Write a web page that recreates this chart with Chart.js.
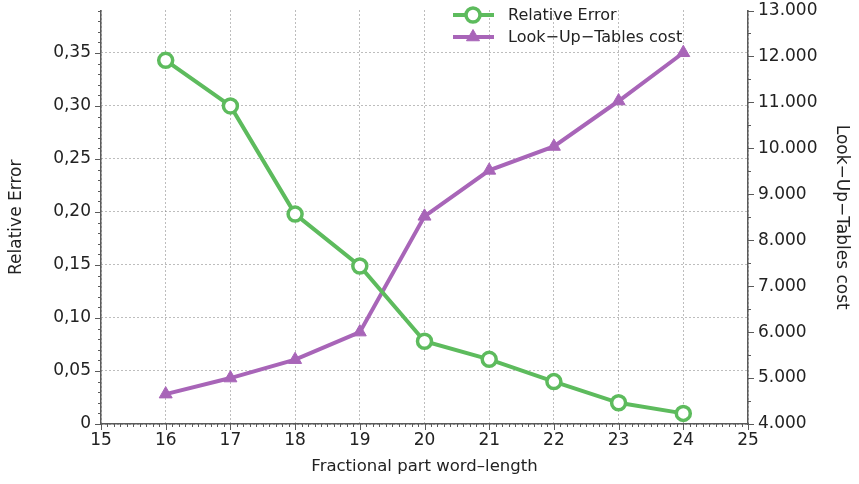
<!DOCTYPE html>
<html>
<head>
<meta charset="utf-8">
<script src="https://cdn.jsdelivr.net/npm/chart.js@4/dist/chart.umd.min.js"></script>
<style>
  html, body { margin: 0; padding: 0; background: #fff; }
  #wrap { width: 859px; height: 484px; }
</style>
</head>
<body>
<div id="wrap"><canvas id="c" width="859" height="484"></canvas></div>
<script>
// Word-length sweep: fractional bits vs. error and LUT cost
const wordLengths = [16, 17, 18, 19, 20, 21, 22, 23, 24];
const relativeError = [0.343, 0.300, 0.198, 0.149, 0.078, 0.061, 0.040, 0.020, 0.010];
const lutCost = [4650, 5000, 5400, 6000, 8520, 9520, 10040, 11030, 12080];

const xTickValues = [15, 16, 17, 18, 19, 20, 21, 22, 23, 24, 25];
const errorTickValues = [0, 0.05, 0.10, 0.15, 0.20, 0.25, 0.30, 0.35];
const costTickValues = [4000, 5000, 6000, 7000, 8000, 9000, 10000, 11000, 12000, 13000];

const seriesNames = ['Relative Error', 'Look\u2212Up\u2212Tables cost'];
const axisTitles = { x: 'Fractional part word\u2013length', left: 'Relative Error', right: 'Look\u2212Up\u2212Tables cost' };

const GREEN = '#5dbb5d';
const PURPLE = '#a865b8';
const AXIS = '#5a5a5a';
const TEXT = '#222222';
const FONT = '"DejaVu Sans", sans-serif';

const toPoints = (xs, ys) => xs.map((x, i) => ({ x, y: ys[i] }));

function fmtError(v) {
  if (Math.abs(v) < 1e-9) return '0';
  return v.toFixed(2).replace('.', ',');
}
function fmtCost(v) {
  return String(Math.round(v)).replace(/\B(?=(\d{3})+(?!\d))/g, '.');
}
function keepTicks(list) {
  return scale => {
    scale.ticks = list.map(v => ({ value: v }));
  };
}
// fixed axis thickness, no extra label overflow padding
function fixSize(dim, size) {
  return s => {
    s[dim] = size;
    s.paddingTop = 0; s.paddingBottom = 0;
    s.paddingLeft = 0; s.paddingRight = 0;
  };
}

// Minor / major tick marks on all three axes and the line+marker legend
const decorations = {
  id: 'decorations',
  afterDraw(chart) {
    const ctx = chart.ctx;
    const { x, y, y1 } = chart.scales;
    const area = chart.chartArea;
    ctx.save();
    ctx.strokeStyle = AXIS;
    ctx.lineWidth = 1;

    // x axis: minor every 0.1, major every 1, pointing down
    for (let i = 0; i <= 100; i++) {
      const v = 15 + i / 10;
      const px = Math.round(x.getPixelForValue(v)) + 0.5;
      const len = (i % 10 === 0) ? 6 : 3;
      ctx.beginPath();
      ctx.moveTo(px, area.bottom);
      ctx.lineTo(px, area.bottom + len);
      ctx.stroke();
    }
    // left axis: minor every 0.01, major every 0.05, pointing left
    for (let i = 0; i <= 39; i++) {
      const py = Math.round(y.getPixelForValue(i / 100)) + 0.5;
      const len = (i % 5 === 0) ? 6 : 3;
      ctx.beginPath();
      ctx.moveTo(area.left, py);
      ctx.lineTo(area.left - len, py);
      ctx.stroke();
    }
    // right axis: minor every 500, major every 1000, pointing right
    for (let i = 0; i <= 18; i++) {
      const py = Math.round(y1.getPixelForValue(4000 + i * 500)) + 0.5;
      const len = (i % 2 === 0) ? 6 : 3;
      ctx.beginPath();
      ctx.moveTo(area.right, py);
      ctx.lineTo(area.right + len, py);
      ctx.stroke();
    }

    // legend
    const rows = [
      { ds: chart.data.datasets[0], y: 15 },
      { ds: chart.data.datasets[1], y: 37 }
    ];
    const lx0 = 453, lx1 = 494, mx = 473, tx = 508;
    ctx.font = '16px ' + FONT;
    ctx.textBaseline = 'middle';
    ctx.textAlign = 'left';
    rows.forEach(r => {
      const ds = r.ds;
      ctx.strokeStyle = ds.borderColor;
      ctx.lineWidth = ds.borderWidth;
      ctx.beginPath();
      ctx.moveTo(lx0, r.y);
      ctx.lineTo(lx1, r.y);
      ctx.stroke();
      ctx.fillStyle = ds.pointBackgroundColor;
      ctx.strokeStyle = ds.pointBorderColor;
      ctx.lineWidth = ds.pointBorderWidth;
      Chart.helpers.drawPoint(ctx, {
        pointStyle: ds.pointStyle,
        radius: ds.pointRadius,
        rotation: 0,
        borderWidth: ds.pointBorderWidth
      }, mx, r.y);
      ctx.fillStyle = TEXT;
      ctx.fillText(ds.label, tx, r.y + 1);
    });
    ctx.restore();
  }
};

new Chart(document.getElementById('c'), {
  type: 'line',
  data: {
    datasets: [
      {
        label: seriesNames[0],
        data: toPoints(wordLengths, relativeError),
        yAxisID: 'y',
        borderColor: GREEN,
        borderWidth: 4,
        pointStyle: 'circle',
        pointRadius: 7,
        pointHoverRadius: 7,
        pointBackgroundColor: '#ffffff',
        pointBorderColor: GREEN,
        pointBorderWidth: 3.5,
        tension: 0,
        clip: false
      },
      {
        label: seriesNames[1],
        data: toPoints(wordLengths, lutCost),
        yAxisID: 'y1',
        borderColor: PURPLE,
        borderWidth: 4,
        pointStyle: 'triangle',
        pointRadius: 7.5,
        pointHoverRadius: 7.5,
        pointBackgroundColor: PURPLE,
        pointBorderColor: PURPLE,
        pointBorderWidth: 1,
        tension: 0,
        clip: false
      }
    ]
  },
  options: {
    responsive: false,
    animation: false,
    events: [],
    layout: { padding: { top: 8, left: 0, right: 0, bottom: 0 } },
    plugins: { legend: { display: false }, tooltip: { enabled: false } },
    scales: {
      x: {
        type: 'linear',
        min: 15,
        max: 25,
        afterBuildTicks: keepTicks(xTickValues),
        afterFit: fixSize('height', 60),
        ticks: { color: TEXT, font: { family: FONT, size: 17 }, padding: 6, maxRotation: 0, callback: v => String(v) },
        grid: { color: '#7a7a7a', lineWidth: 1, drawTicks: false, tickLength: 0 },
        border: { display: true, color: AXIS, width: 1.5, dash: [1, 3] },
        title: { display: true, text: axisTitles.x, color: TEXT, font: { family: FONT, size: 16.5 }, padding: { top: 0, bottom: 7 } }
      },
      y: {
        type: 'linear',
        position: 'left',
        min: 0,
        max: 0.39,
        afterBuildTicks: keepTicks(errorTickValues),
        afterFit: fixSize('width', 101),
        ticks: { color: TEXT, font: { family: FONT, size: 17 }, padding: 10, callback: fmtError },
        grid: { color: '#7a7a7a', lineWidth: 1, drawTicks: false, tickLength: 0 },
        border: { display: true, color: AXIS, width: 1.5, dash: [1, 3] },
        title: { display: true, text: axisTitles.left, color: TEXT, font: { family: FONT, size: 17 }, padding: { top: 6, bottom: 0 } }
      },
      y1: {
        type: 'linear',
        position: 'right',
        min: 4000,
        max: 13000,
        afterBuildTicks: keepTicks(costTickValues),
        afterFit: fixSize('width', 111),
        ticks: { color: TEXT, font: { family: FONT, size: 17 }, padding: 10, callback: fmtCost },
        grid: { drawOnChartArea: false, drawTicks: false, tickLength: 0 },
        border: { display: true, color: AXIS, width: 1.5 },
        title: { display: true, text: axisTitles.right, color: TEXT, font: { family: FONT, size: 17 }, padding: { top: 7, bottom: 0 } }
      }
    }
  },
  plugins: [decorations]
});
</script>
</body>
</html>
